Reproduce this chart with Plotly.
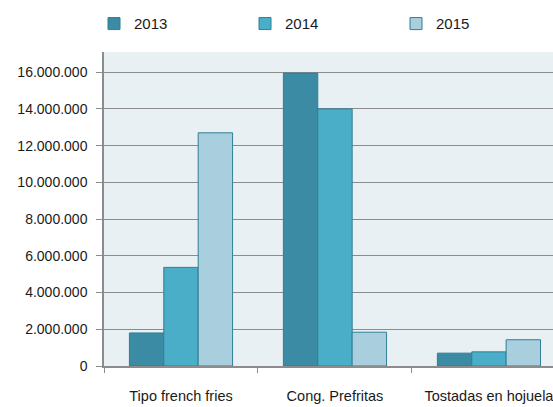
import plotly.graph_objects as go

categories = ["Tipo french fries", "Cong. Prefritas", "Tostadas en hojuela"]
years = ["2013", "2014", "2015"]
v2013 = [1800000, 15950000, 700000]
v2014 = [5370000, 14000000, 770000]
v2015 = [12700000, 1840000, 1430000]
y_ticks = [0, 2000000, 4000000, 6000000, 8000000, 10000000, 12000000, 14000000, 16000000]

colors = ["#3a8ba3", "#4aaec8", "#a9cfde"]
font = "Liberation Sans, Arial, sans-serif"

fig = go.Figure()
for name, vals, c in zip(years, [v2013, v2014, v2015], colors):
    fig.add_trace(go.Bar(x=categories, y=vals, name=name,
                         marker=dict(color=c, line=dict(color="#2f7f95", width=1))))

fig.update_layout(
    width=553, height=407,
    margin=dict(l=104, r=0, t=52, b=41, autoexpand=False),
    barmode="group", bargap=0.33, bargroupgap=0,
    plot_bgcolor="#e9f0f4", paper_bgcolor="white",
    separators=",.",
    font=dict(family=font, size=14, color="#1a1a1a"),
    showlegend=True,
    legend=dict(orientation="h", xref="container", yref="container",
                x=94 / 553, y=0.982, xanchor="left", yanchor="top",
                entrywidth=106, entrywidthmode="pixels",
                itemwidth=30, font=dict(size=15), traceorder="normal"),
)
fig.update_xaxes(range=[-0.5, 2.416], showline=True, linecolor="#8c8c8c", linewidth=1.5,
                 ticks="outside", tickson="boundaries", ticklen=5, tickcolor="#8c8c8c",
                 ticklabelstandoff=16, tickfont=dict(size=14.5), showgrid=False)
fig.update_yaxes(range=[0, 17100000], tickvals=y_ticks, tickformat=",d",
                 showline=True, linecolor="#8c8c8c", linewidth=1.5,
                 ticks="outside", ticklen=6, tickcolor="#8c8c8c",
                 gridcolor="#8c8c8c", gridwidth=1.2, zeroline=False,
                 tickfont=dict(size=14), ticklabelstandoff=6)

# page has a default body margin; drop it so the figure sits at the window corner
fig.write_html("out.html", config={"displayModeBar": False},
               post_script="document.body.style.margin='0';")
